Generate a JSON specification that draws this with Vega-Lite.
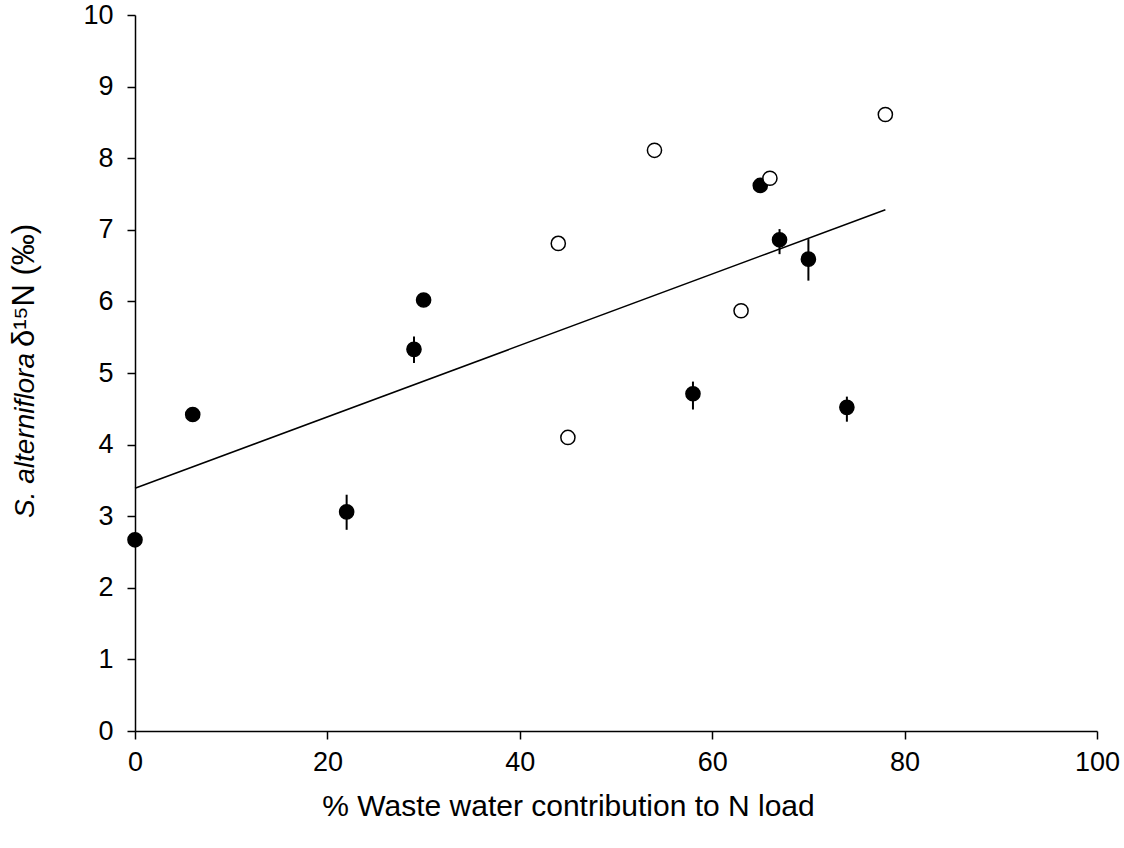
{
  "$schema": "https://vega.github.io/schema/vega-lite/v6.json",
  "width": 962,
  "height": 716,
  "autosize": {"type": "none"},
  "padding": {"left": 135, "top": 15, "right": 27, "bottom": 117},
  "background": "white",
  "datasets": {
    "pts": [
      {"x": 0, "y": 2.67, "lo": 2.57, "hi": 2.77, "type": "filled"},
      {"x": 6, "y": 4.42, "lo": 4.42, "hi": 4.42, "type": "filled"},
      {"x": 22, "y": 3.06, "lo": 2.81, "hi": 3.30, "type": "filled"},
      {"x": 29, "y": 5.33, "lo": 5.14, "hi": 5.51, "type": "filled"},
      {"x": 30, "y": 6.02, "lo": 6.02, "hi": 6.02, "type": "filled"},
      {"x": 58, "y": 4.71, "lo": 4.49, "hi": 4.88, "type": "filled"},
      {"x": 65, "y": 7.62, "lo": 7.62, "hi": 7.62, "type": "filled"},
      {"x": 67, "y": 6.86, "lo": 6.66, "hi": 7.01, "type": "filled"},
      {"x": 70, "y": 6.59, "lo": 6.29, "hi": 6.87, "type": "filled"},
      {"x": 74, "y": 4.52, "lo": 4.32, "hi": 4.67, "type": "filled"},
      {"x": 44, "y": 6.81, "lo": 6.81, "hi": 6.81, "type": "open"},
      {"x": 45, "y": 4.10, "lo": 4.10, "hi": 4.10, "type": "open"},
      {"x": 54, "y": 8.11, "lo": 8.11, "hi": 8.11, "type": "open"},
      {"x": 63, "y": 5.87, "lo": 5.87, "hi": 5.87, "type": "open"},
      {"x": 66, "y": 7.72, "lo": 7.72, "hi": 7.72, "type": "open"},
      {"x": 78, "y": 8.61, "lo": 8.61, "hi": 8.61, "type": "open"}
    ],
    "fit": [
      {"x": 0, "y": 3.39},
      {"x": 78, "y": 7.28}
    ]
  },
  "config": {
    "view": {"stroke": null},
    "axis": {
      "grid": false,
      "domainColor": "black",
      "domainWidth": 1.5,
      "tickColor": "black",
      "tickWidth": 1.5,
      "tickSize": 8,
      "labelFont": "Liberation Sans",
      "labelFontSize": 27,
      "labelColor": "black",
      "labelFlush": false,
      "titleFont": "Liberation Sans",
      "titleFontSize": 28,
      "titleFontWeight": "normal",
      "titleColor": "black"
    },
    "axisX": {
      "labelPadding": 10,
      "titleFontSize": 30,
      "titleX": 433,
      "titleY": 84,
      "titleAlign": "center",
      "titleBaseline": "alphabetic"
    }
  },
  "resolve": {"axis": {"y": "independent"}},
  "layer": [
    {
      "data": {"name": "pts"},
      "mark": {"type": "rule", "color": "black", "strokeWidth": 2},
      "encoding": {
        "x": {"field": "x", "type": "quantitative", "scale": {"domain": [0, 100], "nice": false},
          "axis": {"values": [0, 20, 40, 60, 80, 100], "title": "% Waste water contribution to N load"}},
        "y": {"field": "lo", "type": "quantitative", "scale": {"domain": [0, 10], "nice": false}, "axis": null},
        "y2": {"field": "hi"}
      }
    },
    {
      "data": {"name": "fit"},
      "mark": {"type": "line", "color": "black", "strokeWidth": 1.5},
      "encoding": {
        "x": {"field": "x", "type": "quantitative", "scale": {"domain": [0, 100], "nice": false},
          "axis": {"values": [0, 20, 40, 60, 80, 100], "title": "% Waste water contribution to N load"}},
        "y": {"field": "y", "type": "quantitative", "scale": {"domain": [0, 10], "nice": false},
          "axis": {"orient": "right", "title": "δ¹⁵N (‰)", "domain": false, "ticks": false, "labels": false, "titleFontSize": 31,
            "titleAngle": 270, "titleAlign": "center", "titleBaseline": "alphabetic", "titleX": -1064, "titleY": 270}}
      }
    },
    {
      "data": {"name": "pts"},
      "mark": {"type": "point", "shape": "circle", "size": 200, "stroke": "black", "strokeWidth": 1.5, "opacity": 1},
      "encoding": {
        "x": {"field": "x", "type": "quantitative", "scale": {"domain": [0, 100], "nice": false},
          "axis": {"values": [0, 20, 40, 60, 80, 100], "title": "% Waste water contribution to N load"}},
        "y": {"field": "y", "type": "quantitative", "scale": {"domain": [0, 10], "nice": false},
          "axis": {"orient": "left", "values": [0, 1, 2, 3, 4, 5, 6, 7, 8, 9, 10], "labelPadding": 14,
            "title": "S. alterniflora", "titleFontStyle": "italic",
            "titleAngle": 270, "titleAlign": "center", "titleBaseline": "alphabetic", "titleX": -102, "titleY": 420}},
        "fill": {"field": "type", "type": "nominal", "scale": {"domain": ["filled", "open"], "range": ["black", "white"]}, "legend": null}
      }
    }
  ]
}
